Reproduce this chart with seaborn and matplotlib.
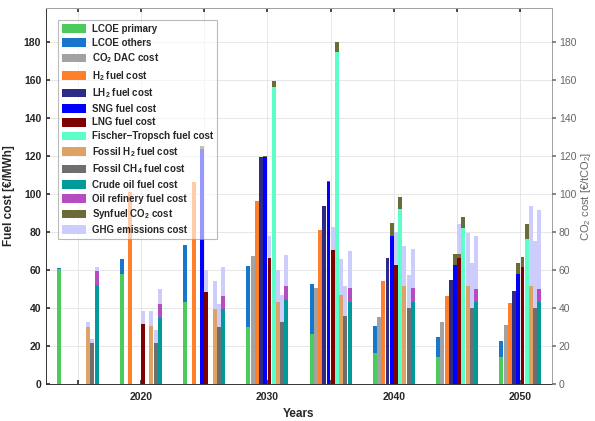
import numpy as np
import pandas as pd
import matplotlib
matplotlib.use("Agg")
import matplotlib.pyplot as plt
import seaborn as sns
from matplotlib.patches import Patch

# ------------------------------
# Fuel cost components per year [EUR/MWh]
# (0 = fuel not available in that year)
# ------------------------------
years = [2015, 2020, 2025, 2030, 2035, 2040, 2045, 2050]

lcoe_primary = [60.3, 58, 43, 30.2, 26.4, 16.5, 14.4, 14.4]
lcoe_others = [0.7, 8, 30, 32.1, 26.4, 13.8, 10.2, 8.3]
co2_dac = [0, 0, 0, 67.5, 50.8, 35.2, 32.5, 31.1]
h2_fuel = [0, 101, 106.2, 96.2, 80.9, 54, 46.1, 42.6]
lh2_fuel = [0, 0, 0, 119.4, 93.9, 66.3, 54.9, 49.1]
sng_fuel = [0, 0, 123.8, 119.4, 106.2, 78.1, 62.4, 58]
sng_co2 = [0, 0, 1.5, 0.6, 0.8, 6.5, 6, 5.5]
lng_fuel = [0, 31.5, 48.2, 66.3, 70.4, 62.8, 66.5, 61.4]
lng_co2 = [0, 0, 0, 0, 0, 0, 2, 5.4]
lng_ghg = [0, 6.7, 12, 11.4, 12.3, 17.2, 16, 0]
ft_fuel = [0, 0, 0, 156.5, 174.8, 92.2, 82.1, 76.3]
ft_co2 = [0, 0, 0, 3, 5.3, 6.3, 5.9, 8.1]
fossil_h2 = [30.2, 30.6, 39.6, 43.1, 47, 51.7, 51.7, 51.7]
fossil_h2_ghg = [2.7, 7.6, 14.8, 17.1, 18.8, 21.1, 27.8, 41.9]
fossil_ch4 = [21.5, 21.8, 29.9, 32.5, 35.9, 39.9, 39.9, 39.9]
fossil_ch4_ghg = [2.2, 6.7, 12.1, 14.5, 15.8, 17.6, 23.8, 35.2]
crude_oil = [52, 35, 39.6, 44, 43.4, 43.4, 43.1, 43.1]
oil_refinery = [7.3, 7, 7, 7.4, 7.4, 7.1, 7, 7]
crude_ghg = [2.3, 8, 14.8, 16.6, 19, 20.5, 28, 41.7]

# legend labels and colours
labels = {
    "lcoe_p": "LCOE primary",
    "lcoe_o": "LCOE others",
    "dac": r"CO$_\mathbf{2}$ DAC cost",
    "h2": r"H$_\mathbf{2}$ fuel cost",
    "lh2": r"LH$_\mathbf{2}$ fuel cost",
    "sng": "SNG fuel cost",
    "lng": "LNG fuel cost",
    "ft": "Fischer\u2212Tropsch fuel cost",
    "fh2": r"Fossil H$_\mathbf{2}$ fuel cost",
    "fch4": r"Fossil CH$_\mathbf{4}$ fuel cost",
    "crude": "Crude oil fuel cost",
    "refin": "Oil refinery fuel cost",
    "syn": r"Synfuel CO$_\mathbf{2}$ cost",
    "ghg": "GHG emissions cost",
}
colors = {
    "lcoe_p": "#4ccb5c",
    "lcoe_o": "#1877cc",
    "dac": "#a2a2a2",
    "h2": "#ff7f2a",
    "lh2": "#2e2a86",
    "sng": "#0000ff",
    "lng": "#7f0000",
    "ft": "#5dffc9",
    "fh2": "#dfa265",
    "fch4": "#6e6e6e",
    "crude": "#009a9a",
    "refin": "#b54cc0",
    "syn": "#6b6b37",
    "ghg": "#cdcdfd",
}

# (component, bar slot inside the year group, values)
series = [
    ("lcoe_p", 0, lcoe_primary), ("lcoe_o", 0, lcoe_others),
    ("dac", 1, co2_dac),
    ("h2", 2, h2_fuel),
    ("lh2", 3, lh2_fuel),
    ("sng", 4, sng_fuel), ("syn", 4, sng_co2),
    ("lng", 5, lng_fuel), ("syn", 5, lng_co2), ("ghg", 5, lng_ghg),
    ("ft", 6, ft_fuel), ("syn", 6, ft_co2),
    ("fh2", 7, fossil_h2), ("ghg", 7, fossil_h2_ghg),
    ("fch4", 8, fossil_ch4), ("ghg", 8, fossil_ch4_ghg),
    ("crude", 9, crude_oil), ("refin", 9, oil_refinery), ("ghg", 9, crude_ghg),
]

slot_w = 1 / 3  # years per bar slot
rows = []
for comp, slot, vals in series:
    for yr, v in zip(years, vals):
        if v > 0:
            rows.append({"x": yr + (slot - 4.5) * slot_w, "value": v, "component": comp})
df = pd.DataFrame(rows)

# one bin per bar slot, gaps between the year groups
edges = np.unique(np.concatenate([yr + (np.arange(11) - 5) * slot_w for yr in years]))
edges = [float(e) for e in edges]

# stacking order, bottom first (seaborn puts first hue level on top)
bottom_first = ["lcoe_p", "dac", "h2", "lh2", "sng", "lng", "ft", "fh2", "fch4",
                "crude", "lcoe_o", "refin", "syn", "ghg"]

sns.set_theme(style="whitegrid")
plt.rcParams["font.family"] = ["Liberation Sans", "DejaVu Sans"]
plt.rcParams["mathtext.fontset"] = "custom"
plt.rcParams["mathtext.rm"] = "Liberation Sans"
plt.rcParams["mathtext.bf"] = "Liberation Sans:bold"

fig = plt.figure(figsize=(5.95, 4.21), dpi=100)
ax = fig.add_axes([0.0773, 0.0879, 0.8504, 0.8931])

sns.histplot(data=df, x="x", weights="value", hue="component",
             hue_order=bottom_first[::-1], palette=colors, bins=edges,
             multiple="stack", shrink=0.92, alpha=1, linewidth=0,
             legend=False, ax=ax)

ax.set_xlim(2012.5, 2052.5)
ax.set_ylim(0, 198)
ax.set_xticks(np.arange(2015, 2051, 5))
ax.set_xticklabels([str(y) if y % 10 == 0 else "" for y in range(2015, 2051, 5)])
ax.set_yticks(np.arange(0, 181, 20))
ax.grid(True, color="#e3e3e3", linewidth=0.6)
ax.tick_params(axis="x", direction="in", top=True, bottom=True, length=3,
               color="#333333", labelsize=7.5, pad=6)
ax.tick_params(axis="y", direction="in", left=True, length=3,
               color="#333333", labelsize=7.5)
for lab in ax.get_xticklabels() + ax.get_yticklabels():
    lab.set_fontweight("bold")
for s in ["left", "bottom"]:
    ax.spines[s].set_color("#333333")
for s in ["top", "right"]:
    ax.spines[s].set_color("#a0a0a0")
for s in ax.spines.values():
    s.set_linewidth(0.7)

ax.set_xlabel("Years", fontsize=8.5, fontweight="bold", labelpad=4)
ax.set_ylabel("Fuel cost [\u20ac/MWh]", fontsize=8.5, fontweight="bold", labelpad=6)

# right axis: CO2 cost
ax2 = ax.twinx()
ax2.set_ylim(0, 198)
ax2.set_yticks(np.arange(0, 181, 20))
ax2.grid(False)
ax2.tick_params(axis="y", direction="out", right=True, length=3, pad=2,
                color="#777777", labelcolor="#666666", labelsize=7.5)
for s in ax2.spines.values():
    s.set_visible(False)
ax2.set_ylabel("CO$_2$ cost [\u20ac/tCO$_2$]", fontsize=8, color="#666666", labelpad=2)

legend_order = ["lcoe_p", "lcoe_o", "dac", "h2", "lh2", "sng", "lng", "ft",
                "fh2", "fch4", "crude", "refin", "syn", "ghg"]
handles = [Patch(facecolor=colors[k], edgecolor="none", label=labels[k]) for k in legend_order]
leg = ax2.legend(handles=handles, loc="upper left", bbox_to_anchor=(0.024, 0.968),
                 borderaxespad=0, prop={"weight": "bold", "size": 7},
                 handlelength=2.5, handleheight=1.0, handletextpad=0.6,
                 labelspacing=0.38, framealpha=0.6, fancybox=False,
                 edgecolor="#8c8c8c", borderpad=0.4)
leg.get_frame().set_linewidth(0.8)

fig.savefig("out.png", dpi=100)
